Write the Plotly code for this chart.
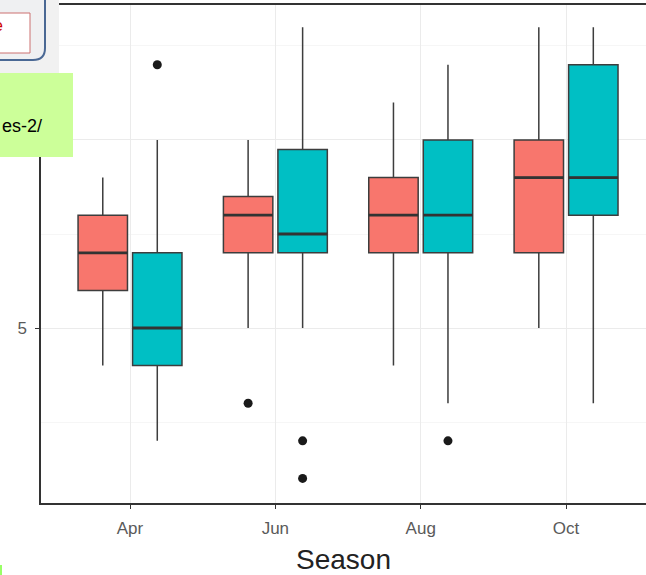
import plotly.graph_objects as go

seasons = ["Apr", "Jun", "Aug", "Oct"]

# group 1 (red) box stats per season
red_q1 = [6, 7, 7, 7]
red_med = [7, 8, 8, 9]
red_q3 = [8, 8.5, 9, 10]
red_lo = [4, 5, 4, 5]
red_hi = [9, 10, 11, 13]
red_out_season = ["Jun"]
red_out_value = [3]

# group 2 (teal) box stats per season
teal_q1 = [4, 7, 7, 8]
teal_med = [5, 7.5, 8, 9]
teal_q3 = [7, 9.75, 10, 12]
teal_lo = [2, 5, 3, 3]
teal_hi = [10, 13, 12, 13]
teal_out_season = ["Apr", "Jun", "Jun", "Aug"]
teal_out_value = [12, 2, 1, 2]

RED = "#F8766D"
TEAL = "#00BFC4"
OFF = 0.1875
W = 0.34
FONT = "Liberation Sans, Arial, sans-serif"

# pixel -> paper helpers (plot area: x 41..646, y 5..503)
L, R, T, B = 41, 646, 5, 503
def px(x):
    return (x - L) / (R - L)
def py(y):
    return (B - y) / (B - T)

pos = {s: i + 1 for i, s in enumerate(seasons)}

fig = go.Figure()

groups = [
    ("g1", RED, -OFF, red_q1, red_med, red_q3, red_lo, red_hi, red_out_season, red_out_value),
    ("g2", TEAL, OFF, teal_q1, teal_med, teal_q3, teal_lo, teal_hi, teal_out_season, teal_out_value),
]

for name, color, off, q1, med, q3, lo, hi, out_s, out_v in groups:
    xs = [pos[s] + off for s in seasons]
    fig.add_trace(go.Box(
        x=xs, q1=q1, median=med, q3=q3, lowerfence=lo, upperfence=hi,
        width=W, whiskerwidth=0, fillcolor=color, name=name,
        line=dict(color="#3d3d3d", width=1.5),
        showlegend=False, hoverinfo="skip"))
    # thicker median bars like ggplot
    mx, my = [], []
    for x, m in zip(xs, med):
        mx += [x - W / 2, x + W / 2, None]
        my += [m, m, None]
    fig.add_trace(go.Scatter(x=mx, y=my, mode="lines",
                             line=dict(color="#333333", width=2.8),
                             showlegend=False, hoverinfo="skip"))
    fig.add_trace(go.Scatter(x=[pos[s] + off for s in out_s], y=out_v, mode="markers",
                             marker=dict(color="#1a1a1a", size=9),
                             showlegend=False, hoverinfo="skip"))

fig.update_xaxes(
    range=[0.3875, 4.55],
    tickvals=[pos[s] for s in seasons], ticktext=seasons,
    showgrid=True, gridcolor="#ebebeb", gridwidth=1,
    showline=True, mirror=True, linecolor="#333333", linewidth=1.5,
    ticks="outside", ticklen=4, tickcolor="#333333",
    tickfont=dict(family=FONT, size=17, color="#5a5a5a"),
    ticklabelstandoff=5,
    title=dict(text="Season", font=dict(family=FONT, size=28, color="#222222"), standoff=14),
    zeroline=False)

# label for 10 sits under the green note box in the reference
fig.update_yaxes(
    range=[0.346, 13.59],
    tickvals=[5, 10], ticktext=["5", ""],
    showgrid=True, gridcolor="#ebebeb", gridwidth=1,
    minor=dict(tickvals=[2.5, 7.5, 12.5], showgrid=True, gridcolor="#f6f6f6", ticklen=0),
    showline=True, mirror=False, linecolor="#333333", linewidth=1.5,
    ticks="outside", ticklen=4, tickcolor="#333333",
    tickfont=dict(family=FONT, size=17, color="#5a5a5a"),
    ticklabelstandoff=5,
    zeroline=False)

rounded = (f"M {px(-5)},{py(-5)} L {px(45)},{py(-5)} L {px(45)},{py(48)} "
           f"Q {px(45)},{py(60)} {px(33)},{py(60)} L {px(-5)},{py(60)} Z")

shapes = [
    dict(type="rect", xref="paper", yref="paper", x0=px(-2), x1=px(59), y0=py(-2), y1=py(73),
         fillcolor="#f1f1f1", line=dict(width=0), layer="above"),
    dict(type="path", xref="paper", yref="paper", path=rounded,
         fillcolor="#eff0f2", line=dict(color="#4a6894", width=2), layer="above"),
    dict(type="rect", xref="paper", yref="paper", x0=px(-5), x1=px(30), y0=py(13), y1=py(53),
         fillcolor="#ffffff", line=dict(color="#cc7070", width=1), layer="above"),
    dict(type="rect", xref="paper", yref="paper", x0=px(-2), x1=px(73), y0=py(73), y1=py(157),
         fillcolor="#ccff99", line=dict(width=0), layer="above"),
    dict(type="rect", xref="paper", yref="paper", x0=px(-2), x1=px(2), y0=py(565), y1=py(577),
         fillcolor="#99ff66", line=dict(width=0), layer="above"),
]

fig.update_layout(
    width=646, height=575,
    margin=dict(l=L, r=0, t=T, b=575 - B),
    plot_bgcolor="white", paper_bgcolor="white",
    showlegend=False,
    shapes=shapes,
    annotations=[
        dict(text="es-2/", xref="paper", yref="paper", x=px(0), y=py(126),
             xanchor="left", yanchor="middle", showarrow=False,
             font=dict(family=FONT, size=18, color="#000000")),
        dict(text="e", xref="paper", yref="paper", x=px(5), y=py(25),
             xanchor="right", yanchor="middle", showarrow=False,
             font=dict(family=FONT, size=16, color="#cc0000")),
    ],
)

# drop the default 8px page margin so the figure sits at the window's corner
fig.write_html("out.html", config={"displayModeBar": False},
               post_script="document.body.style.margin='0';")
